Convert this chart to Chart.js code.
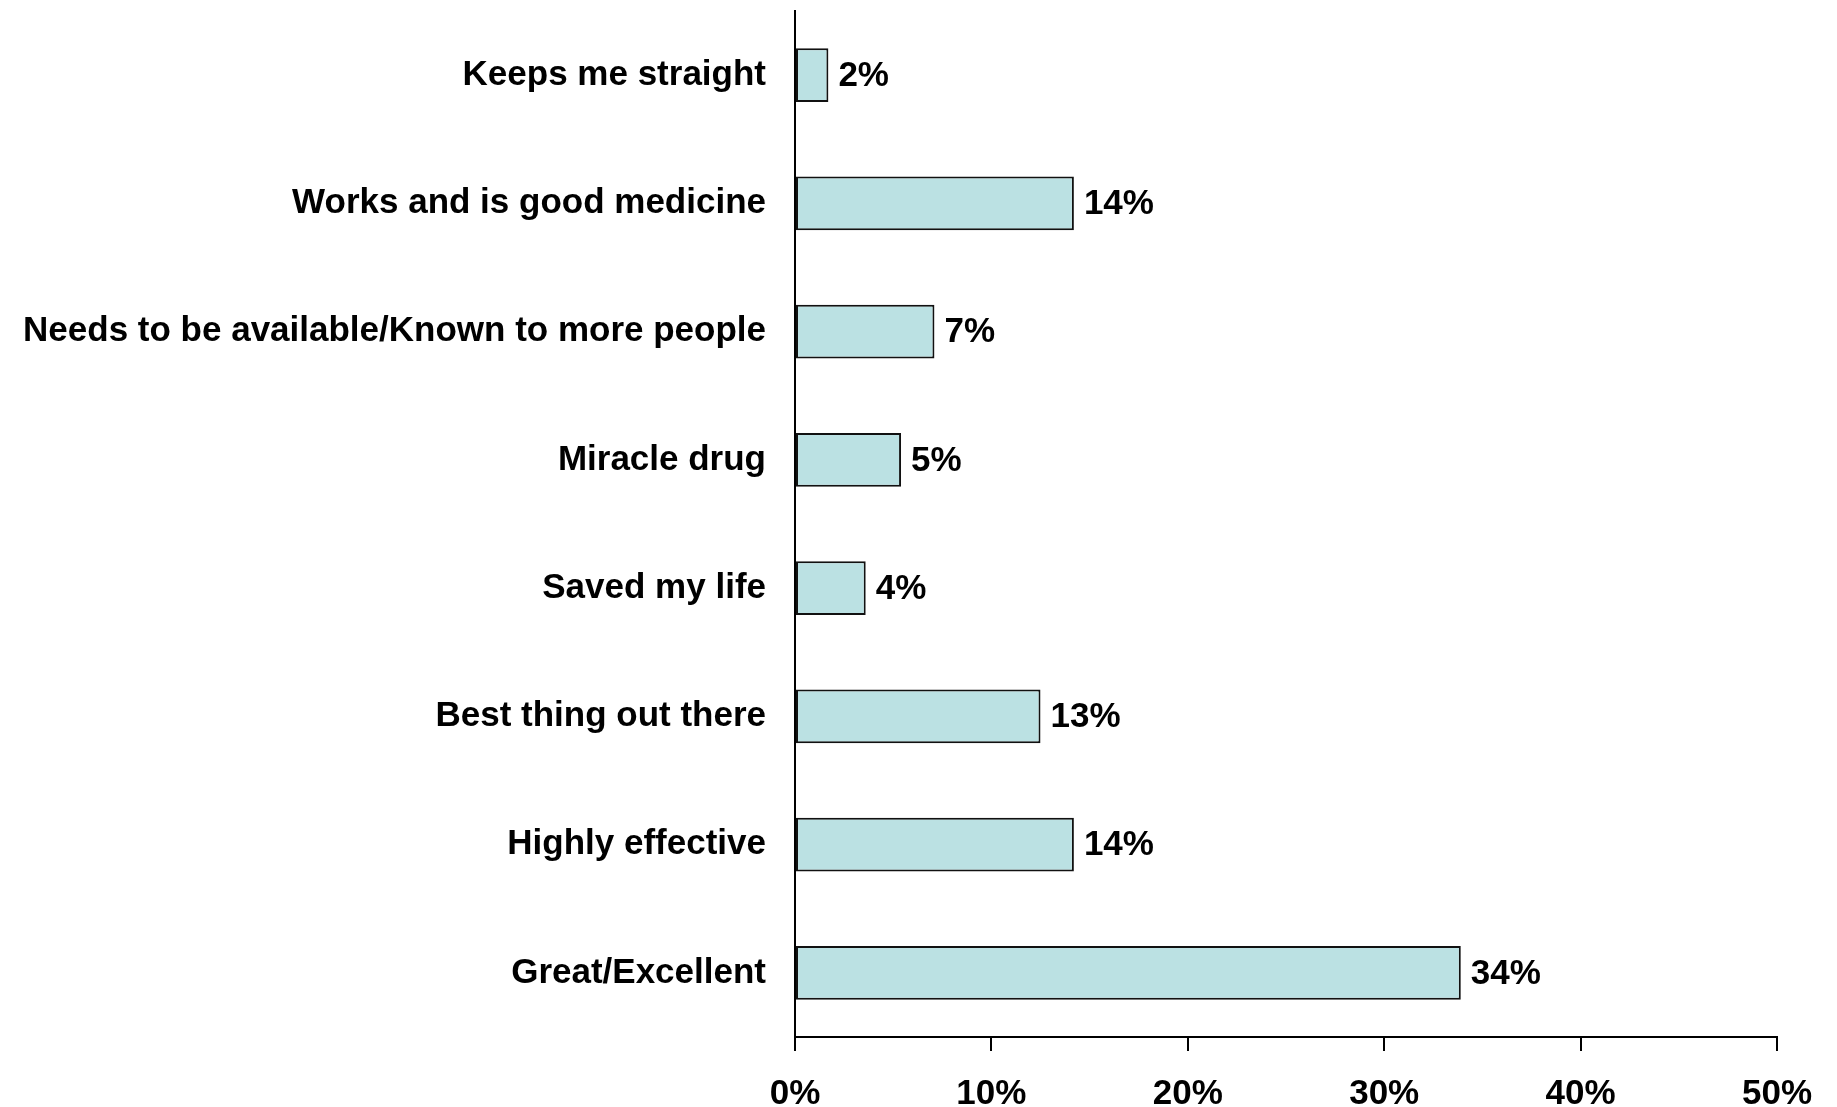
<!DOCTYPE html>
<html>
<head>
<meta charset="utf-8">
<script src="https://cdn.jsdelivr.net/npm/chart.js@4.4.1/dist/chart.umd.min.js"></script>
<style>
  html, body { margin:0; padding:0; background:#fff; }
  #wrap { width:1837px; height:1107px; position:relative; }
</style>
</head>
<body>
<div id="wrap"><canvas id="chart"></canvas></div>
<script>
// ================= DATA =================
const categories = [
  "Keeps me straight",
  "Works and is good medicine",
  "Needs to be available/Known to more people",
  "Miracle drug",
  "Saved my life",
  "Best thing out there",
  "Highly effective",
  "Great/Excellent"
];
const shares = [1.7, 14.2, 7.1, 5.4, 3.6, 12.5, 14.2, 33.9];
const tickValues = [0, 10, 20, 30, 40, 50];

const FONT = "'Liberation Sans', Arial, sans-serif";

// value labels at bar ends
const barLabels = {
  id: "barLabels",
  afterDatasetsDraw(chart){
    const ctx = chart.ctx;
    const meta = chart.getDatasetMeta(0);
    ctx.save();
    ctx.font = "bold 35px " + FONT;
    ctx.fillStyle = "#000";
    ctx.textAlign = "left";
    ctx.textBaseline = "middle";
    meta.data.forEach((bar, i) => {
      ctx.fillText(Math.round(shares[i]) + "%", bar.x + 10, bar.y + 1);
    });
    ctx.restore();
  }
};

new Chart(document.getElementById("chart"), {
  type: "bar",
  data: {
    labels: categories,
    datasets: [{
      data: shares,
      backgroundColor: "#BBE1E3",
      borderColor: "#111",
      borderWidth: 2,
      borderSkipped: false,
      categoryPercentage: 1,
      barPercentage: 0.42
    }]
  },
  options: {
    indexAxis: "y",
    responsive: true,
    maintainAspectRatio: false,
    animation: false,
    layout: { padding: { top: 11, right: 60, bottom: 0, left: 0 } },
    plugins: { legend: { display: false }, tooltip: { enabled: false } },
    scales: {
      x: {
        min: 0, max: 50,
        afterBuildTicks: s => { s.ticks = tickValues.map(v => ({ value: v })); },
        grid: { drawOnChartArea: false, drawTicks: true, tickLength: 14, color: "#000", lineWidth: 2 },
        border: { display: true, color: "#000", width: 2 },
        ticks: {
          padding: 22,
          color: "#000",
          font: { family: FONT, size: 35, weight: "bold" },
          callback: v => v + "%"
        },
        afterFit: s => { s.height = 70; }
      },
      y: {
        grid: { display: false, drawTicks: false },
        border: { display: true, color: "#000", width: 2 },
        ticks: {
          padding: 29,
          color: "#000",
          font: { family: FONT, size: 35, weight: "bold" }
        },
        afterFit: s => { s.width = 795; s.paddingTop = 0; s.paddingBottom = 0; }
      }
    }
  },
  plugins: [barLabels]
});
</script>
</body>
</html>
